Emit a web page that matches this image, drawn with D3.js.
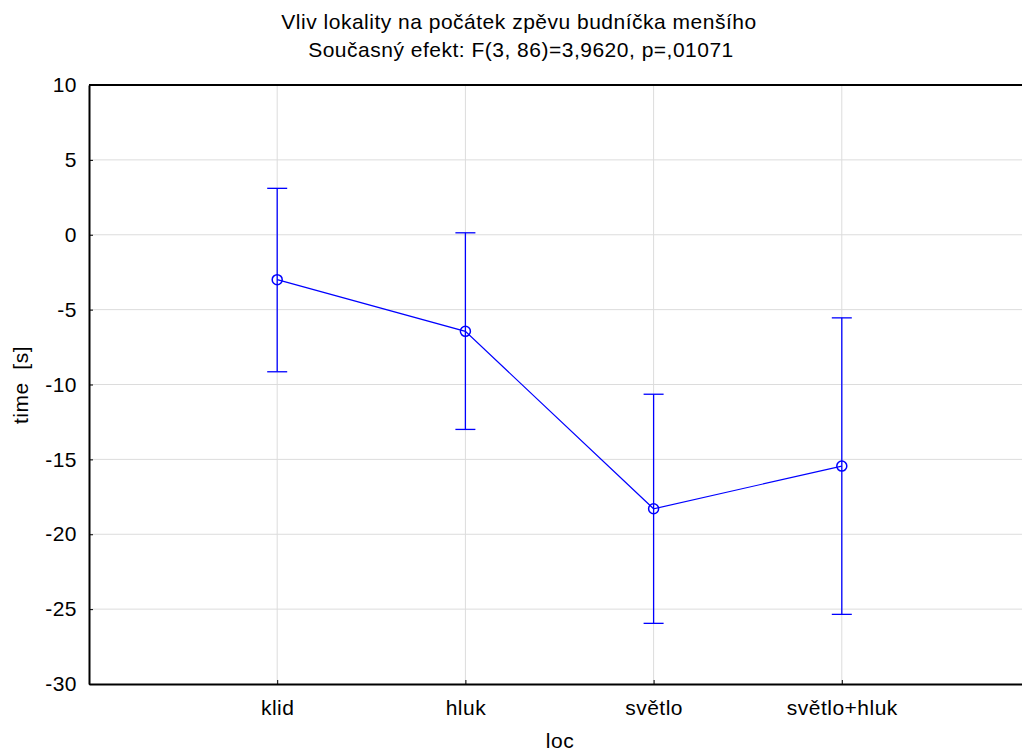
<!DOCTYPE html>
<html>
<head>
<meta charset="utf-8">
<script src="https://cdn.jsdelivr.net/npm/d3@7"></script>
<style>
  html, body { margin: 0; background: #fff; overflow: hidden; }
  svg { display: block; }
  text { font-family: "Liberation Sans", Arial, sans-serif; fill: #000; letter-spacing: 0.5px; }
</style>
</head>
<body>
<script>
var categories = ["klid", "hluk", "světlo", "světlo+hluk"];
var means = [-3.0, -6.45, -18.3, -15.45];
var lower = [-9.15, -13.0, -25.95, -25.35];
var upper = [3.1, 0.13, -10.65, -5.55];
var yTicks = [10, 5, 0, -5, -10, -15, -20, -25, -30];

var width = 1022, height = 753;
var margin = {left: 89, top: 85, right: 1030, bottom: 684};
var fs = "21px";

var svg = d3.select("body").append("svg")
  .attr("width", width)
  .attr("height", height);

var x = d3.scaleLinear().domain([0, categories.length + 1]).range([margin.left, margin.right]);
var y = d3.scaleLinear().domain([-30, 10]).range([margin.bottom, margin.top]);

var data = categories.map(function(c, i) {
  return {name: c, pos: i + 1, mean: means[i], lo: lower[i], hi: upper[i]};
});

// grid
svg.append("g").selectAll("line.h")
  .data(yTicks.slice(1, -1))
  .enter().append("line")
  .attr("x1", margin.left).attr("x2", margin.right)
  .attr("y1", function(d){ return y(d); })
  .attr("y2", function(d){ return y(d); })
  .attr("stroke", "#dcdcdc").attr("stroke-width", 1);

svg.append("g").selectAll("line.v")
  .data(data)
  .enter().append("line")
  .attr("x1", function(d){ return x(d.pos); })
  .attr("x2", function(d){ return x(d.pos); })
  .attr("y1", margin.top).attr("y2", margin.bottom)
  .attr("stroke", "#dcdcdc").attr("stroke-width", 1);

// axes
var yAxis = d3.axisLeft(y).tickValues(yTicks).tickFormat(function(d){ return String(d); })
  .tickSizeInner(-4).tickSizeOuter(0).tickPadding(12);
var gy = svg.append("g").attr("transform", "translate(" + margin.left + ",0)").call(yAxis);
gy.select(".domain").attr("stroke", "#000").attr("stroke-width", 2);
gy.selectAll("text").style("font-size", fs).attr("fill", "#000");

var xAxis = d3.axisBottom(x).tickValues(data.map(function(d){ return d.pos; }))
  .tickFormat(function(d){ return categories[d - 1]; })
  .tickSizeInner(-4).tickSizeOuter(0).tickPadding(16);
var gx = svg.append("g").attr("transform", "translate(0," + margin.bottom + ")").call(xAxis);
gx.select(".domain").attr("stroke", "#000").attr("stroke-width", 2);
gx.selectAll("text").style("font-size", fs).attr("fill", "#000");

svg.append("line")
  .attr("x1", margin.left).attr("x2", margin.right)
  .attr("y1", margin.top).attr("y2", margin.top)
  .attr("stroke", "#000").attr("stroke-width", 2);

// error bars
var blue = "#0000ff";
var eb = svg.append("g").attr("stroke", blue).attr("stroke-width", 1.3).attr("fill", "none");
eb.selectAll("line.bar").data(data).enter().append("line")
  .attr("x1", function(d){ return x(d.pos); })
  .attr("x2", function(d){ return x(d.pos); })
  .attr("y1", function(d){ return y(d.hi); })
  .attr("y2", function(d){ return y(d.lo); });
eb.selectAll("line.capHi").data(data).enter().append("line")
  .attr("x1", function(d){ return x(d.pos) - 10; })
  .attr("x2", function(d){ return x(d.pos) + 10; })
  .attr("y1", function(d){ return y(d.hi); })
  .attr("y2", function(d){ return y(d.hi); });
eb.selectAll("line.capLo").data(data).enter().append("line")
  .attr("x1", function(d){ return x(d.pos) - 10; })
  .attr("x2", function(d){ return x(d.pos) + 10; })
  .attr("y1", function(d){ return y(d.lo); })
  .attr("y2", function(d){ return y(d.lo); });

// mean line
var line = d3.line().x(function(d){ return x(d.pos); }).y(function(d){ return y(d.mean); });
svg.append("path").datum(data)
  .attr("d", line)
  .attr("fill", "none").attr("stroke", blue).attr("stroke-width", 1.2);

svg.append("g").selectAll("circle").data(data).enter().append("circle")
  .attr("cx", function(d){ return x(d.pos); })
  .attr("cy", function(d){ return y(d.mean); })
  .attr("r", 5)
  .attr("fill", "none").attr("stroke", blue).attr("stroke-width", 1.5);

// titles
svg.append("text").attr("x", 519).attr("y", 29).attr("text-anchor", "middle")
  .style("font-size", fs).text("Vliv lokality na počátek zpěvu budníčka menšího");
svg.append("text").attr("x", 521).attr("y", 57).attr("text-anchor", "middle")
  .style("font-size", fs).text("Současný efekt: F(3, 86)=3,9620, p=,01071");

svg.append("text").attr("x", 560).attr("y", 748).attr("text-anchor", "middle")
  .style("font-size", fs).text("loc");

svg.append("text")
  .attr("transform", "translate(28,385) rotate(-90)")
  .attr("text-anchor", "middle")
  .attr("xml:space", "preserve")
  .style("white-space", "pre")
  .style("font-size", fs).text("time  [s]");
</script>
</body>
</html>
